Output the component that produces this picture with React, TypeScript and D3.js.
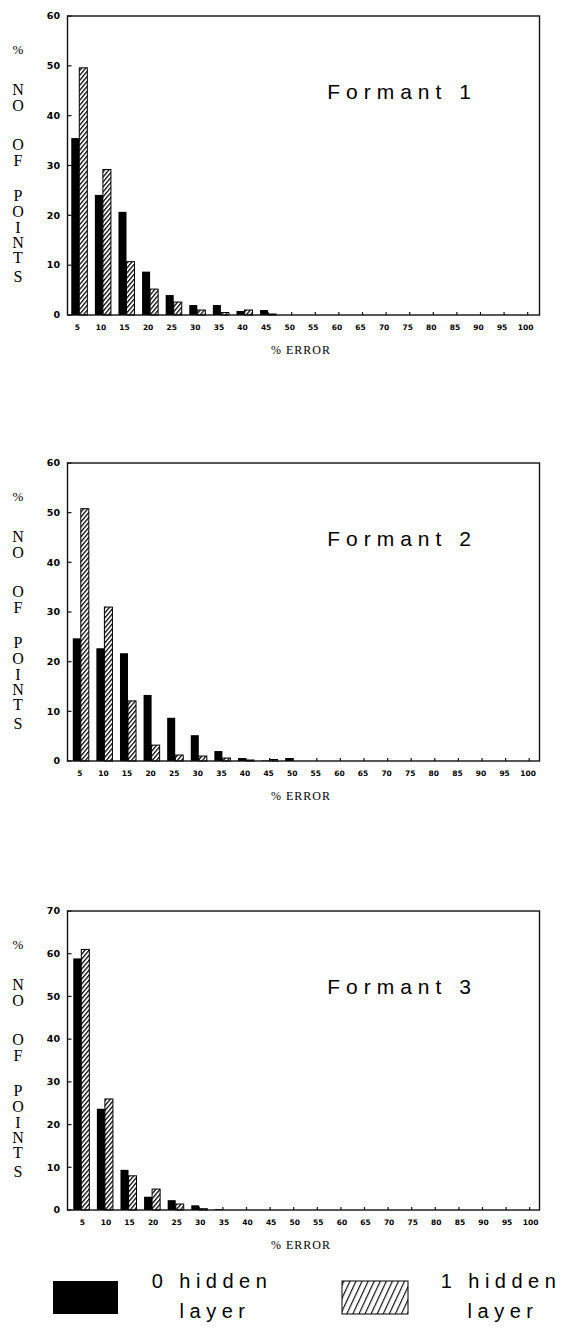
import React from 'react';
import * as d3 from 'd3';

const categories = ['5', '10', '15', '20', '25', '30', '35', '40', '45', '50',
  '55', '60', '65', '70', '75', '80', '85', '90', '95', '100'];

// % of points per error bin, 0 hidden layer (black) and 1 hidden layer (hatched)
const formant1Zero = [35.5, 24.1, 20.7, 8.7, 4.0, 2.0, 2.0, 0.8, 1.0, 0, 0, 0, 0, 0, 0, 0, 0, 0, 0, 0];
const formant1One = [49.6, 29.2, 10.7, 5.2, 2.6, 1.0, 0.5, 1.0, 0.2, 0, 0, 0, 0, 0, 0, 0, 0, 0, 0, 0];
const formant2Zero = [24.7, 22.7, 21.7, 13.3, 8.7, 5.2, 2.0, 0.6, 0.1, 0.6, 0, 0, 0, 0, 0, 0, 0, 0, 0, 0];
const formant2One = [50.8, 31.0, 12.1, 3.2, 1.2, 1.0, 0.6, 0.2, 0.3, 0, 0, 0, 0, 0, 0, 0, 0, 0, 0, 0];
const formant3Zero = [58.9, 23.7, 9.4, 3.1, 2.3, 1.1, 0.2, 0, 0, 0, 0, 0, 0, 0, 0, 0, 0, 0, 0, 0];
const formant3One = [61.0, 26.0, 8.0, 4.9, 1.4, 0.3, 0, 0, 0, 0, 0, 0, 0, 0, 0, 0, 0, 0, 0, 0];

const ticks60 = [0, 10, 20, 30, 40, 50, 60];
const ticks70 = [0, 10, 20, 30, 40, 50, 60, 70];

const yLetters = ['%', 'N', 'O', 'O', 'F', 'P', 'O', 'I', 'N', 'T', 'S'];
const letterOffsets = [33, 73, 89, 128, 144, 179, 195, 211, 226, 241, 260];

// layout per panel (the scans are not perfectly aligned, hence small shifts)
const panels = [
  { title: 'Formant 1', zero: formant1Zero, one: formant1One, ticks: ticks60, top: 16, bottom: 315, shift: 0, labelShift: -2 },
  { title: 'Formant 2', zero: formant2Zero, one: formant2One, ticks: ticks60, top: 463, bottom: 761, shift: 1.5, labelShift: -1 },
  { title: 'Formant 3', zero: formant3Zero, one: formant3One, ticks: ticks70, top: 911, bottom: 1210, shift: 2, labelShift: 1 },
];

const left = 67.5, right = 539.5;
const sans = '"Liberation Sans", Arial, sans-serif';
const serif = '"Liberation Serif", "Times New Roman", serif';
const tickFont = '"DejaVu Sans", sans-serif';

function Panel({ p }) {
  const x = d3.scaleBand().domain(categories).range([left + p.shift, right + p.shift]).padding(0);
  const inner = d3.scaleBand().domain(['zero', 'one']).range([0, x.bandwidth()])
    .paddingInner(0).paddingOuter(0.47);
  const y = d3.scaleLinear().domain([0, d3.max(p.ticks)]).range([p.bottom, p.top]);

  return (
    <g>
      {categories.map((c, i) => (
        <g key={c}>
          {p.zero[i] > 0 && (
            <rect x={x(c) + inner('zero')} y={y(p.zero[i])} width={inner.bandwidth()}
              height={y(0) - y(p.zero[i])} fill="#000" />
          )}
          {p.one[i] > 0 && (
            <rect x={x(c) + inner('one')} y={y(p.one[i])} width={inner.bandwidth()}
              height={y(0) - y(p.one[i])} fill="url(#hatch)" stroke="#000" strokeWidth={1} />
          )}
        </g>
      ))}
      {/* frame */}
      <rect x={left} y={p.top} width={right - left} height={p.bottom - p.top}
        fill="none" stroke="#111" strokeWidth={1.4} />
      {/* y ticks */}
      {p.ticks.map(t => (
        <g key={t}>
          <line x1={left} x2={left + 4} y1={y(t)} y2={y(t)} stroke="#111" strokeWidth={1.2} />
          <text x={60} y={y(t)} dy="0.35em" textAnchor="end" fontFamily={tickFont}
            fontWeight="bold" fontSize={9.5}>{t}</text>
        </g>
      ))}
      {/* x ticks */}
      {categories.map(c => (
        <g key={c}>
          <line x1={x(c) + x.bandwidth() / 2} x2={x(c) + x.bandwidth() / 2}
            y1={p.bottom} y2={p.bottom - 3} stroke="#111" strokeWidth={1.2} />
          <text x={x(c) + x.bandwidth() / 2 + p.labelShift} y={p.bottom + 12} dy="0.35em" textAnchor="middle"
            fontFamily={tickFont} fontWeight="bold" fontSize={7.5}>{c}</text>
        </g>
      ))}
      <text x={301} y={p.bottom + 35} dy="0.35em" textAnchor="middle" fontFamily={serif}
        fontSize={12} letterSpacing={1}>% ERROR</text>
      {yLetters.map((l, i) => (
        <text key={i} x={18} y={p.top + letterOffsets[i]} dy="0.35em" textAnchor="middle"
          fontFamily={serif} fontSize={i === 0 ? 13 : 16}>{l}</text>
      ))}
      <text x={402} y={p.top + 76} dy="0.35em" textAnchor="middle" fontFamily={sans}
        fontSize={21} letterSpacing={6}>{p.title}</text>
    </g>
  );
}

export default function App() {
  return (
    <svg width={569} height={1333} style={{ position: 'absolute', left: 0, top: 0, background: '#fff' }}>
      <defs>
        <pattern id="hatch" patternUnits="userSpaceOnUse" width={3.2} height={3.2}
          patternTransform="rotate(40)">
          <rect width={3.2} height={3.2} fill="#fff" />
          <line x1={0.6} y1={0} x2={0.6} y2={3.2} stroke="#000" strokeWidth={1.3} />
        </pattern>
        <pattern id="hatchLegend" patternUnits="userSpaceOnUse" width={5.5} height={5.5}
          patternTransform="rotate(25)">
          <rect width={5.5} height={5.5} fill="#fff" />
          <line x1={0.6} y1={0} x2={0.6} y2={5.5} stroke="#000" strokeWidth={1.1} />
        </pattern>
      </defs>
      {panels.map(p => <Panel key={p.title} p={p} />)}
      {/* legend */}
      <rect x={53} y={1281} width={65} height={33} fill="#000" />
      <text x={212} y={1288} textAnchor="middle" fontFamily={sans} fontSize={20}
        letterSpacing={5.5}>0 hidden</text>
      <text x={215} y={1318} textAnchor="middle" fontFamily={sans} fontSize={20}
        letterSpacing={5.5}>layer</text>
      <rect x={342} y={1281} width={66} height={33} fill="url(#hatchLegend)" stroke="#000" strokeWidth={1} />
      <text x={501} y={1288} textAnchor="middle" fontFamily={sans} fontSize={20}
        letterSpacing={5.5}>1 hidden</text>
      <text x={503} y={1318} textAnchor="middle" fontFamily={sans} fontSize={20}
        letterSpacing={5.5}>layer</text>
    </svg>
  );
}
